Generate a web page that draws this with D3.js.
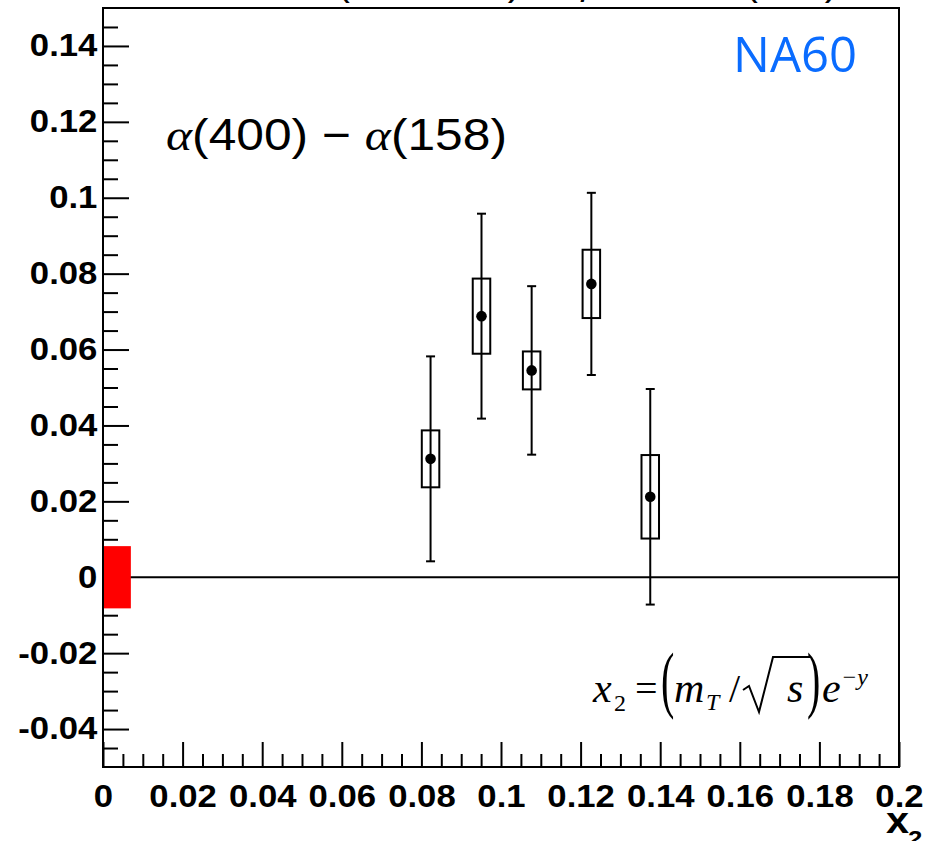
<!DOCTYPE html>
<html>
<head>
<meta charset="utf-8">
<script src="https://cdn.jsdelivr.net/npm/d3@7"></script>
<style>
  html, body { margin: 0; padding: 0; background: #fff; overflow: hidden; }
  svg { display: block; }
</style>
</head>
<body>
<script>
// Difference of nuclear-dependence exponents, alpha(400 GeV) - alpha(158 GeV), versus x2
const x2Values   = [0.0823, 0.0951, 0.1077, 0.1227, 0.1375];
const alphaDiff  = [0.0312, 0.0688, 0.0545, 0.0773, 0.0212];
const statErrors = [0.0270, 0.0270, 0.0222, 0.0240, 0.0284];
const sysErrors  = [0.0075, 0.0099, 0.0050, 0.0090, 0.0110];

// Global normalisation uncertainty band drawn at zero
const globalBandX = [0, 0.007];
const globalBandY = [-0.0082, 0.0082];

const xTickValues = [0, 0.02, 0.04, 0.06, 0.08, 0.1, 0.12, 0.14, 0.16, 0.18, 0.2];
const xTickLabels = ["0", "0.02", "0.04", "0.06", "0.08", "0.1", "0.12", "0.14", "0.16", "0.18", "0.2"];
const yTickValues = [-0.04, -0.02, 0, 0.02, 0.04, 0.06, 0.08, 0.1, 0.12, 0.14];
const yTickLabels = ["-0.04", "-0.02", "0", "0.02", "0.04", "0.06", "0.08", "0.1", "0.12", "0.14"];

const W = 929, H = 841;
const frame = { left: 103, right: 899, top: 8, bottom: 767 };
const labelStretch = "scale(1.12,1)";
const sysHalfWidth = 0.0022;   // half width of systematic boxes, in x2 units

const x = d3.scaleLinear().domain([0, 0.2]).range([frame.left, frame.right]);
const y = d3.scaleLinear().domain([-0.05, 0.15]).range([frame.bottom, frame.top]);

const svg = d3.select("body").append("svg")
  .attr("width", W).attr("height", H)
  .attr("viewBox", `0 0 ${W} ${H}`);

svg.append("rect").attr("width", W).attr("height", H).attr("fill", "#fff");

// Heading above the frame (only its lowest part falls inside the page)
const heading = svg.append("g")
  .attr("font-family", "Liberation Sans, Arial, sans-serif")
  .attr("font-size", 40)
  .attr("fill", "#000");
heading.append("text").attr("x", 521).attr("y", -5).attr("text-anchor", "end").text("α(400 GeV)");
heading.append("text").attr("x", 586).attr("y", 2).attr("text-anchor", "middle").text("/");
heading.append("text").attr("x", 838).attr("y", -5).attr("text-anchor", "end").text("α(158)");

// ---- axes: ticks drawn inside the frame ----
const yMinor = d3.range(-9, 30).filter(i => i % 4 !== 0).map(i => i * 0.005);
const xMinor = d3.range(1, 40).filter(i => i % 4 !== 0).map(i => i * 0.005);

const fmtY = v => yTickLabels[yTickValues.findIndex(t => Math.abs(t - v) < 1e-9)];
const fmtX = v => xTickLabels[xTickValues.findIndex(t => Math.abs(t - v) < 1e-9)];

const gYMinor = svg.append("g")
  .attr("transform", `translate(${frame.left},0)`)
  .call(d3.axisLeft(y).tickValues(yMinor).tickSize(-15).tickFormat(""));
const gY = svg.append("g")
  .attr("transform", `translate(${frame.left},0)`)
  .call(d3.axisLeft(y).tickValues(yTickValues).tickSize(-26).tickPadding(5).tickFormat(fmtY));

const gXMinor = svg.append("g")
  .attr("transform", `translate(0,${frame.bottom})`)
  .call(d3.axisBottom(x).tickValues(xMinor).tickSize(-13).tickFormat(""));
const gX = svg.append("g")
  .attr("transform", `translate(0,${frame.bottom})`)
  .call(d3.axisBottom(x).tickValues(xTickValues).tickSize(-25).tickPadding(18).tickFormat(fmtX));

[gYMinor, gY, gXMinor, gX].forEach(g => {
  g.select(".domain").remove();
  g.selectAll(".tick line").attr("stroke", "#000").attr("stroke-width", 2);
});
[gY, gX].forEach(g => {
  g.selectAll(".tick text")
    .attr("fill", "#000")
    .attr("font-family", "Liberation Sans, Arial, sans-serif")
    .attr("font-weight", "bold")
    .attr("font-size", 31)
    .attr("transform", labelStretch);
});

// Axis title x2
const xTitle = svg.append("text")
  .attr("transform", `translate(886,833) ${labelStretch}`)
  .attr("font-family", "Liberation Sans, Arial, sans-serif")
  .attr("font-weight", "bold")
  .attr("fill", "#000");
xTitle.append("tspan").attr("font-size", 37).text("x");
xTitle.append("tspan").attr("font-size", 23).attr("dx", -1).attr("dy", 13).text("2");

// ---- zero reference line and global band ----
svg.append("line")
  .attr("x1", x(0)).attr("x2", x(0.2))
  .attr("y1", y(0)).attr("y2", y(0))
  .attr("stroke", "#000").attr("stroke-width", 2);

svg.append("rect")
  .attr("x", x(globalBandX[0]) - 1)
  .attr("width", x(globalBandX[1]) - x(globalBandX[0]) + 1)
  .attr("y", y(globalBandY[1]))
  .attr("height", y(globalBandY[0]) - y(globalBandY[1]))
  .attr("fill", "#ff0000");

// ---- data points ----
const points = x2Values.map((v, i) => ({
  x: v, y: alphaDiff[i], stat: statErrors[i], sys: sysErrors[i]
}));

const gPts = svg.append("g").attr("stroke", "#000").attr("stroke-width", 2).attr("fill", "none");
const capHalf = 4.5;

points.forEach(p => {
  const cx = x(p.x);
  // statistical error bar
  gPts.append("line").attr("x1", cx).attr("x2", cx)
    .attr("y1", y(p.y + p.stat)).attr("y2", y(p.y - p.stat));
  gPts.append("line").attr("x1", cx - capHalf).attr("x2", cx + capHalf)
    .attr("y1", y(p.y + p.stat)).attr("y2", y(p.y + p.stat));
  gPts.append("line").attr("x1", cx - capHalf).attr("x2", cx + capHalf)
    .attr("y1", y(p.y - p.stat)).attr("y2", y(p.y - p.stat));
  // systematic box
  gPts.append("rect")
    .attr("x", x(p.x - sysHalfWidth))
    .attr("width", x(p.x + sysHalfWidth) - x(p.x - sysHalfWidth))
    .attr("y", y(p.y + p.sys))
    .attr("height", y(p.y - p.sys) - y(p.y + p.sys));
  // central value
  gPts.append("circle").attr("cx", cx).attr("cy", y(p.y)).attr("r", 5.3)
    .attr("fill", "#000").attr("stroke", "none");
});

// ---- frame ----
svg.append("rect")
  .attr("x", frame.left).attr("y", frame.top)
  .attr("width", frame.right - frame.left).attr("height", frame.bottom - frame.top)
  .attr("fill", "none").attr("stroke", "#000").attr("stroke-width", 2);

// ---- annotations ----
svg.append("text")
  .attr("x", 733).attr("y", 72)
  .attr("font-family", "Open Sans, Noto Sans, sans-serif")
  .attr("font-size", 49)
  .attr("fill", "#0a6cff")
  .text("NA60");

const alphaLabel = svg.append("text")
  .attr("transform", `translate(166,150) scale(1.13,1)`)
  .attr("font-family", "Liberation Sans, Arial, sans-serif")
  .attr("font-size", 44)
  .attr("fill", "#000");
alphaLabel.append("tspan").attr("font-family", "Liberation Serif, serif").attr("font-style", "italic").text("α");
alphaLabel.append("tspan").text("(400) − ");
alphaLabel.append("tspan").attr("font-family", "Liberation Serif, serif").attr("font-style", "italic").text("α");
alphaLabel.append("tspan").text("(158)");

// x2 = (mT / sqrt(s)) e^{-y}
const formula = svg.append("g")
  .attr("transform", "translate(593,702)")
  .attr("font-family", "Liberation Serif, Times New Roman, serif")
  .attr("fill", "#000");
const ftext = (dx, dy, size, str, italic) => formula.append("text")
  .attr("x", dx).attr("y", dy).attr("font-size", size)
  .attr("font-style", italic ? "italic" : "normal").text(str);
const fparen = (dx, str) => formula.append("text")
  .attr("transform", `translate(${dx},2) scale(1,1.85)`)
  .attr("font-size", 40).text(str);

ftext(0, 0, 42, "x", true);
ftext(21, 9, 24, "2", false);
ftext(42, 0, 40, "=", false);
fparen(68, "(");
ftext(81, 0, 42, "m", true);
ftext(113, 8, 24, "T", true);
ftext(136, 0, 40, "/", false);
// radical sign with its bar
formula.append("path")
  .attr("d", "M150,-12 L156,-16 L166,10 L180,-45 L218,-45")
  .attr("fill", "none").attr("stroke", "#000").attr("stroke-width", 2)
  .attr("stroke-linejoin", "miter");
ftext(194, 0, 42, "s", true);
fparen(214, ")");
ftext(229, 0, 42, "e", true);
ftext(248, -17, 24, "−y", true);
</script>
</body>
</html>
